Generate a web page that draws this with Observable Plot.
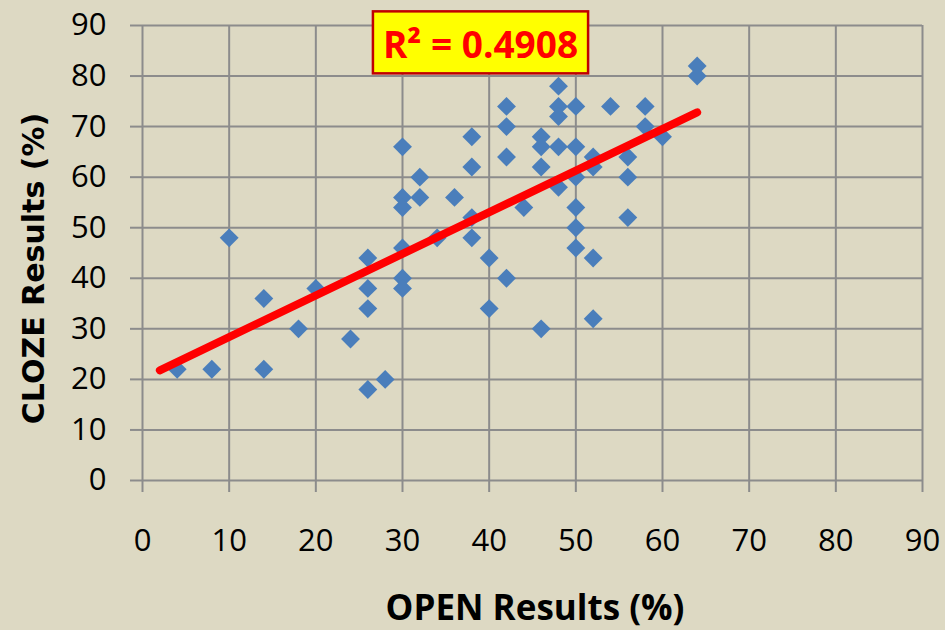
<!DOCTYPE html>
<html>
<head>
<meta charset="utf-8">
<script src="https://cdn.jsdelivr.net/npm/d3@7"></script>
<script src="https://cdn.jsdelivr.net/npm/@observablehq/plot@0.6"></script>
<style>
  html, body { margin: 0; padding: 0; background: #DDD9C3; }
</style>
</head>
<body>
<div id="chart"></div>
<script>
// OPEN (x) and CLOZE (y) results, %
const openResults = [4,8,10,14,14,18,20,24,26,26,26,26,28,30,30,30,30,30,30,32,32,34,36,38,38,38,38,40,40,42,42,42,42,44,46,46,46,46,48,48,48,48,48,50,50,50,50,50,50,52,52,52,52,54,56,56,56,58,58,60,64,64];
const clozeResults = [22,22,48,36,22,30,38,28,44,38,34,18,20,66,56,54,46,40,38,60,56,48,56,68,62,52,48,44,34,74,70,64,40,54,68,66,62,30,78,74,72,66,58,74,66,60,54,50,46,64,62,44,32,74,64,60,52,74,70,68,82,80];

const xTicks = [0,10,20,30,40,50,60,70,80,90];
const yTicks = [0,10,20,30,40,50,60,70,80,90];

// linear trend line endpoints
const trendOpen = [2, 64];
const trendCloze = [21.8, 72.8];

// R² annotation
const r2Label = "R² = 0.4908";
const r2Open = 39.0;
const r2Cloze = 83.6;

const xLabel = "OPEN Results (%)";
const yLabel = "CLOZE Results (%)";

const points = openResults.map((x, i) => ({x, y: clozeResults[i]}));
const trend = trendOpen.map((x, i) => ({x, y: trendCloze[i]}));

const grid = "#8C8C8C";

const chart = Plot.plot({
  width: 945,
  height: 630,
  marginLeft: 142,
  marginRight: 23,
  marginTop: 25,
  marginBottom: 150,
  style: {background: "#DDD9C3", fontFamily: "'Open Sans', sans-serif", fontSize: "31px", color: "#000", overflow: "visible"},
  x: {domain: [0, 90]},
  y: {domain: [0, 90]},
  marks: [
    Plot.gridX(xTicks, {stroke: grid, strokeOpacity: 1, strokeWidth: 2}),
    Plot.gridY(yTicks, {stroke: grid, strokeOpacity: 1, strokeWidth: 2}),
    Plot.axisX(xTicks, {tickSize: 12, tickPadding: 36, stroke: grid, strokeWidth: 2, fill: "#000", fontSize: 31, label: null, tickFormat: d => String(d)}),
    Plot.axisY(yTicks, {tickSize: 12, tickPadding: 24, stroke: grid, strokeWidth: 2, fill: "#000", fontSize: 31, label: null, tickFormat: d => String(d)}),
    Plot.dot(points, {x: "x", y: "y", symbol: "diamond2", r: 8.5, fill: "#4A7EBB", stroke: null}),
    Plot.line(trend, {x: "x", y: "y", stroke: "#FF0000", strokeWidth: 8, strokeLinecap: "round"}),
    Plot.text([r2Label], {x: () => r2Open, y: () => r2Cloze, text: d => d, lineAnchor: "bottom", textAnchor: "middle",
      fill: "#FF0000", fontWeight: "bold", fontSize: 37, fontFamily: "'Open Sans', sans-serif"}),
    Plot.text([xLabel], {frameAnchor: "bottom", text: d => d, lineAnchor: "bottom", textAnchor: "middle", dx: 2.5, dy: 139,
      fontWeight: "bold", fontSize: 35, fill: "#000", fontFamily: "'Open Sans', sans-serif"}),
    Plot.text([yLabel], {frameAnchor: "left", text: d => d, lineAnchor: "bottom", textAnchor: "middle", rotate: -90, dx: -99, dy: 15.5,
      fontWeight: "bold", fontSize: 30, fill: "#000", fontFamily: "'DejaVu Sans', sans-serif"})
  ]
});

document.getElementById("chart").append(chart);

// yellow box behind R² label
const t = Array.from(chart.querySelectorAll("text")).find(el => el.textContent === r2Label);
if (t) {
  const bb = t.getBBox();
  const ns = "http://www.w3.org/2000/svg";
  const rect = document.createElementNS(ns, "rect");
  rect.setAttribute("x", bb.x - 10);
  rect.setAttribute("y", bb.y - 6.5);
  rect.setAttribute("width", bb.width + 20);
  rect.setAttribute("height", bb.height + 11);
  rect.setAttribute("fill", "#FFFF00");
  rect.setAttribute("stroke", "#C00000");
  rect.setAttribute("stroke-width", 2.5);
  const tr = t.getAttribute("transform");
  if (tr) rect.setAttribute("transform", tr);
  t.parentNode.insertBefore(rect, t);
}
</script>
</body>
</html>
